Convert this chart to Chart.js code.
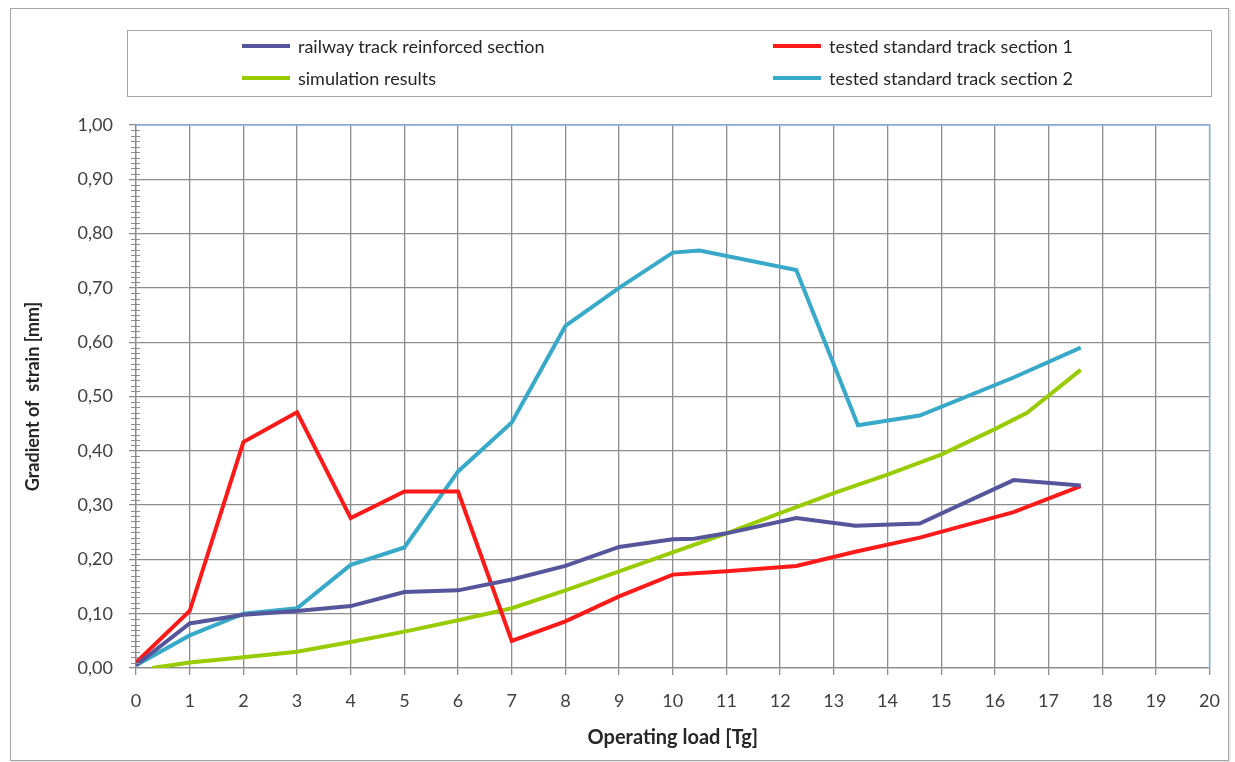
<!DOCTYPE html>
<html lang="en">
<head>
  <meta charset="UTF-8">
  <title>Gradient of strain</title>
  <script src="https://cdn.jsdelivr.net/npm/chart.js"></script>
  <style>
    body {
      margin: 0;
      background: #fff;
      font-family: 'Lato', 'Open Sans', sans-serif;
    }

    .frame {
      position: absolute;
      left: 10px;
      top: 8px;
      width: 1217px;
      height: 751px;
      border: 1px solid #a6a6a6;
      box-shadow: 1px 1px 2px rgba(0, 0, 0, 0.15);
    }

    .wrap {
      position: absolute;
      left: 0;
      top: 0;
      width: 1235px;
      height: 762px;
    }

    .legend {
      position: absolute;
      left: 127px;
      top: 30px;
      width: 1085px;
      height: 67px;
      border: 1px solid #a6a6a6;
      box-sizing: border-box;
    }

    .legend-item {
      position: absolute;
      display: flex;
      align-items: center;
      font-size: 18px;
      color: #262626;
      white-space: nowrap;
    }

    .legend-item span.swatch {
      display: inline-block;
      width: 48px;
      height: 4px;
      margin-right: 8px;
    }
  </style>
</head>
<body>
  <div class="frame"></div>
  <div class="wrap">
    <canvas id="strainChart" width="1235" height="762"></canvas>
  </div>
  <div class="legend" id="legend"></div>

  <script>
    // operating load [Tg] and gradient of strain [mm]
    const reinforcedX = [0, 1, 2, 3, 4, 5, 6, 7, 8, 9, 10, 10.4, 11, 12.3, 13.4, 14.6, 16.35, 17.6];
    const reinforcedY = [0.005, 0.082, 0.098, 0.105, 0.114, 0.14, 0.143, 0.163, 0.188, 0.223, 0.237, 0.238, 0.248, 0.276, 0.262, 0.266, 0.346, 0.336];

    const section1X = [0, 1, 2, 3, 4, 5, 6, 7, 8, 9, 10, 11, 12.3, 13.4, 14.6, 16.35, 17.6];
    const section1Y = [0.01, 0.105, 0.416, 0.471, 0.276, 0.325, 0.325, 0.05, 0.086, 0.132, 0.172, 0.178, 0.188, 0.214, 0.24, 0.287, 0.335];

    const simulationX = [0.3, 1, 2, 3, 4, 5, 6, 7, 8, 9, 10, 11, 12, 13, 14, 15, 16, 16.6, 17.6];
    const simulationY = [0.0, 0.01, 0.02, 0.03, 0.048, 0.067, 0.088, 0.11, 0.143, 0.178, 0.213, 0.248, 0.285, 0.322, 0.356, 0.393, 0.44, 0.47, 0.549];

    const section2X = [0, 1, 2, 3, 4, 5, 6, 7, 8, 9, 10, 10.5, 12.3, 13.45, 14.6, 16.35, 17.6];
    const section2Y = [0.005, 0.06, 0.1, 0.11, 0.19, 0.222, 0.362, 0.452, 0.63, 0.70, 0.765, 0.769, 0.733, 0.447, 0.465, 0.535, 0.59];

    const seriesNames = [
      'railway track reinforced section',
      'tested standard track section 1',
      'simulation results',
      'tested standard track section 2'
    ];
    const seriesColors = ['#55559c', '#ff1a1a', '#99cc00', '#38a9c9'];

    function toPoints(xs, ys) {
      return xs.map((x, i) => ({ x: x, y: ys[i] }));
    }

    const allSeries = [
      toPoints(reinforcedX, reinforcedY),
      toPoints(section1X, section1Y),
      toPoints(simulationX, simulationY),
      toPoints(section2X, section2Y)
    ];

    // legend built by hand, two columns like the original
    const legendSpots = [
      { left: 114, top: 4 }, { left: 645, top: 4 },
      { left: 114, top: 36 }, { left: 645, top: 36 }
    ];
    const legend = document.getElementById('legend');
    seriesNames.forEach((name, i) => {
      const item = document.createElement('div');
      item.className = 'legend-item';
      item.style.left = legendSpots[i].left + 'px';
      item.style.top = legendSpots[i].top + 'px';
      item.innerHTML = '<span class="swatch" style="background:' + seriesColors[i] + '"></span>' + name;
      legend.appendChild(item);
    });

    // minor ticks on the value axis plus the blue plot border
    const extras = {
      id: 'extras',
      afterDraw(chart) {
        const ctx = chart.ctx;
        const y = chart.scales.y;
        const area = chart.chartArea;
        ctx.save();
        ctx.strokeStyle = '#8c8c8c';
        ctx.lineWidth = 1;
        for (let v = 0; v <= 100; v++) {
          if (v % 10 === 0) continue;
          const py = Math.round(y.getPixelForValue(v / 100)) + 0.5;
          ctx.beginPath();
          ctx.moveTo(area.left - 5, py);
          ctx.lineTo(area.left + 4, py);
          ctx.stroke();
        }
        ctx.strokeStyle = '#8db3e2';
        ctx.lineWidth = 1.5;
        ctx.beginPath();
        ctx.moveTo(area.left, area.top);
        ctx.lineTo(area.right, area.top);
        ctx.lineTo(area.right, area.bottom);
        ctx.stroke();
        ctx.restore();
      }
    };

    new Chart(document.getElementById('strainChart'), {
      type: 'line',
      data: {
        datasets: allSeries.map((pts, i) => ({
          label: seriesNames[i],
          data: pts,
          borderColor: seriesColors[i],
          backgroundColor: seriesColors[i],
          borderWidth: 4,
          pointRadius: 0,
          tension: 0,
          fill: false
        }))
      },
      options: {
        responsive: false,
        animation: false,
        layout: { padding: { top: 125, right: 23, bottom: 0, left: 0 } },
        plugins: {
          legend: { display: false },
          tooltip: { enabled: false }
        },
        scales: {
          x: {
            type: 'linear',
            min: 0,
            max: 20,
            ticks: {
              stepSize: 1,
              padding: 15,
              color: '#404040',
              font: { family: 'Lato', size: 18 }
            },
            grid: { color: '#8c8c8c', lineWidth: 1.3, tickLength: 7 },
            border: { color: '#8c8c8c', width: 1.3 },
            title: {
              display: true,
              text: 'Operating load [Tg]',
              color: '#262626',
              font: { family: 'Lato', size: 20, weight: 'bold' },
              padding: { top: 0, bottom: 12 }
            },
            afterFit(scale) { scale.height = 94; }
          },
          y: {
            min: 0,
            max: 1,
            ticks: {
              stepSize: 0.1,
              padding: 16,
              color: '#404040',
              font: { family: 'Lato', size: 18 },
              callback: v => v.toFixed(2).replace('.', ',')
            },
            grid: { color: '#8c8c8c', lineWidth: 1.3, tickLength: 7 },
            border: { color: '#8c8c8c', width: 1.3 },
            title: {
              display: true,
              text: 'Gradient of  strain [mm]',
              color: '#262626',
              font: { family: 'Lato', size: 18, weight: 'bold' },
              padding: { top: 22, bottom: 0 }
            },
            afterFit(scale) { scale.width = 136; }
          }
        }
      },
      plugins: [extras]
    });
  </script>
</body>
</html>
